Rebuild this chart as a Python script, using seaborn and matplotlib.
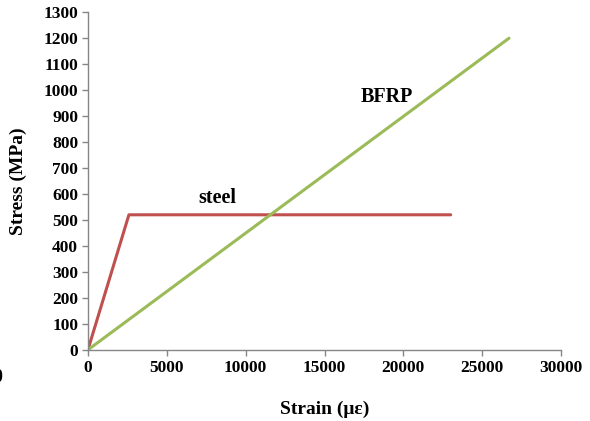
import pandas as pd
import seaborn as sns
import matplotlib.pyplot as plt

# Stress-strain data
steel_strain = [0, 2600, 23000]
steel_stress = [0, 520, 520]
bfrp_strain = [0, 26700]
bfrp_stress = [0, 1200]

x_ticks = list(range(0, 30001, 5000))
y_ticks = list(range(0, 1301, 100))

df = pd.concat([
    pd.DataFrame({'strain': steel_strain, 'stress': steel_stress, 'material': 'steel'}),
    pd.DataFrame({'strain': bfrp_strain, 'stress': bfrp_stress, 'material': 'BFRP'}),
])

sns.set_style('white')
plt.rcParams['font.family'] = ['Liberation Serif', 'DejaVu Serif']
plt.rcParams['font.weight'] = 'bold'
plt.rcParams['text.color'] = 'black'
plt.rcParams['axes.labelcolor'] = 'black'

fig = plt.figure(figsize=(5.9, 4.21), dpi=100)
ax = fig.add_axes([0.149, 0.169, 0.802, 0.802])

sns.lineplot(data=df, x='strain', y='stress', hue='material',
             palette={'steel': '#C0504D', 'BFRP': '#9BBB59'},
             linewidth=2.2, legend=False, ax=ax, sort=False, estimator=None)

ax.set_xlim(0, 30000)
ax.set_ylim(0, 1300)
ax.set_xticks(x_ticks)
ax.set_yticks(y_ticks)
ax.tick_params(axis='both', labelsize=12.5, length=4, width=1, color='#868686',
               labelcolor='black', direction='out', bottom=True, left=True, pad=3)
for lbl in ax.get_xticklabels() + ax.get_yticklabels():
    lbl.set_fontweight('bold')

sns.despine(ax=ax)
for side in ['left', 'bottom']:
    ax.spines[side].set_color('#868686')
    ax.spines[side].set_linewidth(1)

ax.set_xlabel('Strain (με)', fontsize=14, fontweight='bold')
ax.set_ylabel('Stress (MPa)', fontsize=14, fontweight='bold')
ax.xaxis.set_label_coords(0.5, (421 - 410 - 71) / 338)
ax.yaxis.set_label_coords((18 - 88) / 473, 0.5)
ax.xaxis.label.set_va('center')
ax.yaxis.label.set_va('center')

ax.text(8200, 585, 'steel', fontsize=14.5, fontweight='bold', ha='center', va='center')
ax.text(18950, 973, 'BFRP', fontsize=14.5, fontweight='bold', ha='center', va='center')

# stray clipped label at the left edge
fig.text(-0.012, (421 - 378) / 421, '0', fontsize=13, fontweight='bold', ha='left', va='center')

fig.savefig('out.png', dpi=100)
